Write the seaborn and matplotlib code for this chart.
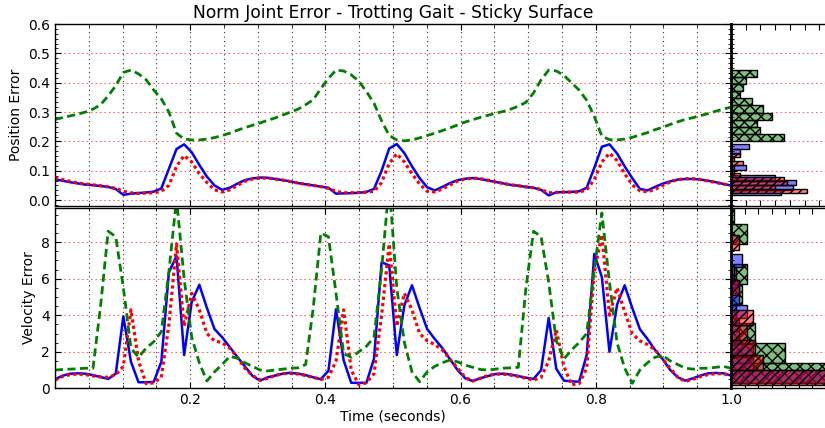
import numpy as np
import matplotlib
matplotlib.use("Agg")
import matplotlib.pyplot as plt
from matplotlib.ticker import MultipleLocator, NullFormatter, FixedLocator
import seaborn as sns

# ---------------- data ----------------
n_samples = 90
time_s = np.arange(n_samples) / (n_samples - 1)

pos_blue = [0.071, 0.066, 0.061, 0.057, 0.053, 0.051, 0.048, 0.045, 0.038, 0.018,
            0.022, 0.024, 0.026, 0.029, 0.040, 0.107, 0.174, 0.190, 0.163, 0.120,
            0.080, 0.050, 0.035, 0.042, 0.056, 0.068, 0.074, 0.077, 0.076, 0.072,
            0.068, 0.064, 0.058, 0.054, 0.050, 0.046, 0.042, 0.022, 0.023, 0.024,
            0.025, 0.028, 0.038, 0.100, 0.176, 0.191, 0.160, 0.115, 0.075, 0.044,
            0.033, 0.045, 0.058, 0.068, 0.073, 0.075, 0.072, 0.067, 0.062, 0.057,
            0.052, 0.049, 0.045, 0.042, 0.035, 0.016, 0.027, 0.027, 0.028, 0.030,
            0.042, 0.110, 0.182, 0.190, 0.159, 0.115, 0.075, 0.038, 0.033, 0.045,
            0.056, 0.064, 0.070, 0.072, 0.072, 0.070, 0.066, 0.061, 0.055, 0.050]

pos_red = [0.076, 0.070, 0.064, 0.058, 0.055, 0.052, 0.049, 0.045, 0.040, 0.030,
           0.025, 0.023, 0.024, 0.025, 0.030, 0.050, 0.115, 0.152, 0.130, 0.090,
           0.060, 0.035, 0.028, 0.035, 0.050, 0.064, 0.072, 0.075, 0.075, 0.072,
           0.068, 0.063, 0.058, 0.054, 0.050, 0.046, 0.040, 0.030, 0.025, 0.025,
           0.026, 0.027, 0.030, 0.060, 0.125, 0.158, 0.130, 0.090, 0.055, 0.030,
           0.028, 0.038, 0.052, 0.065, 0.072, 0.075, 0.073, 0.068, 0.062, 0.057,
           0.052, 0.049, 0.045, 0.042, 0.036, 0.025, 0.026, 0.028, 0.027, 0.027,
           0.035, 0.070, 0.130, 0.160, 0.135, 0.090, 0.052, 0.032, 0.028, 0.037,
           0.050, 0.062, 0.070, 0.073, 0.073, 0.070, 0.065, 0.060, 0.055, 0.050]

pos_green = [0.275, 0.281, 0.287, 0.293, 0.300, 0.310, 0.325, 0.355, 0.390, 0.435,
             0.443, 0.430, 0.410, 0.375, 0.345, 0.300, 0.228, 0.208, 0.205, 0.205,
             0.208, 0.213, 0.220, 0.228, 0.238, 0.247, 0.255, 0.263, 0.272, 0.280,
             0.290, 0.300, 0.310, 0.325, 0.342, 0.380, 0.415, 0.443, 0.440, 0.427,
             0.405, 0.370, 0.330, 0.270, 0.220, 0.205, 0.202, 0.205, 0.212, 0.220,
             0.228, 0.237, 0.246, 0.256, 0.266, 0.274, 0.282, 0.289, 0.296, 0.302,
             0.310, 0.320, 0.333, 0.365, 0.410, 0.443, 0.440, 0.425, 0.400, 0.375,
             0.340, 0.285, 0.218, 0.206, 0.205, 0.208, 0.214, 0.222, 0.230, 0.240,
             0.248, 0.258, 0.267, 0.275, 0.281, 0.288, 0.295, 0.303, 0.310, 0.317]

vel_blue = [0.50, 0.69, 0.80, 0.82, 0.80, 0.72, 0.62, 0.51, 0.80, 3.94,
            1.45, 0.33, 0.33, 0.35, 1.45, 6.36, 7.24, 1.82, 4.73, 5.67,
            4.40, 3.24, 2.80, 2.26, 1.72, 1.20, 0.68, 0.42, 0.60, 0.70,
            0.80, 0.85, 0.80, 0.72, 0.60, 0.50, 0.96, 4.33, 1.54, 0.30,
            0.30, 0.30, 1.63, 6.90, 6.73, 1.82, 4.55, 5.64, 4.40, 3.24,
            2.70, 2.20, 1.60, 1.00, 0.55, 0.40, 0.55, 0.67, 0.78, 0.80,
            0.75, 0.67, 0.58, 0.51, 1.00, 3.85, 1.07, 0.42, 0.38, 0.36,
            1.82, 7.36, 6.09, 2.00, 4.58, 5.64, 4.40, 3.24, 2.70, 2.10,
            1.60, 1.00, 0.60, 0.42, 0.55, 0.70, 0.82, 0.84, 0.82, 0.70]

vel_red = [0.45, 0.65, 0.75, 0.78, 0.75, 0.68, 0.62, 0.60, 0.75, 1.20,
           4.30, 1.50, 0.25, 0.30, 0.60, 3.50, 7.90, 3.40, 5.20, 4.30,
           3.00, 2.60, 2.50, 2.20, 1.70, 1.10, 0.70, 0.45, 0.55, 0.70,
           0.80, 0.82, 0.78, 0.70, 0.60, 0.48, 0.60, 1.50, 4.30, 1.00,
           0.20, 0.30, 0.80, 4.00, 7.90, 3.40, 5.20, 4.30, 3.00, 2.60,
           2.40, 2.10, 1.60, 1.10, 0.60, 0.40, 0.55, 0.70, 0.78, 0.78,
           0.72, 0.65, 0.55, 0.45, 0.60, 1.50, 3.20, 1.20, 0.20, 0.25,
           1.10, 6.40, 8.40, 4.00, 5.50, 4.20, 3.00, 2.60, 2.40, 2.10,
           1.60, 1.10, 0.60, 0.38, 0.50, 0.65, 0.75, 0.80, 0.80, 0.70]

vel_green = [1.00, 1.03, 1.05, 1.07, 1.10, 1.10, 4.50, 8.60, 8.30, 5.50,
             2.20, 1.70, 2.20, 2.55, 3.10, 6.40, 10.40, 6.00, 2.80, 1.40,
             0.40, 0.90, 1.30, 1.75, 1.65, 1.40, 1.20, 1.00, 0.95, 1.00,
             1.05, 1.10, 1.12, 1.30, 4.40, 8.50, 8.30, 5.20, 1.90, 1.70,
             2.00, 2.30, 2.80, 6.50, 11.20, 5.50, 2.50, 0.90, 0.36, 0.90,
             1.20, 1.40, 1.55, 1.45, 1.27, 1.15, 1.03, 1.00, 1.05, 1.10,
             1.12, 1.15, 5.50, 8.60, 8.30, 5.80, 2.60, 1.60, 2.10, 2.50,
             3.00, 6.50, 9.60, 5.80, 2.50, 1.10, 0.27, 1.00, 1.40, 1.70,
             1.80, 1.50, 1.30, 1.10, 1.05, 1.10, 1.10, 1.15, 1.20, 1.10]

title = "Norm Joint Error - Trotting Gait - Sticky Surface"
pos_ylabel = "Position Error"
vel_ylabel = "Velocity Error"
xlabel = "Time (seconds)"
x_tick_labels = [0.2, 0.4, 0.6, 0.8, 1.0]
pos_ticks = [0.0, 0.1, 0.2, 0.3, 0.4, 0.5, 0.6]
vel_ticks = [0, 2, 4, 6, 8]

# ---------------- figure ----------------
plt.rcParams['font.family'] = ['DejaVu Sans']
plt.rcParams['hatch.linewidth'] = 1.0

W, H = 825, 428
fig = plt.figure(figsize=(W / 100, H / 100), dpi=100)

def rect(x0, y0, x1, y1):
    return [x0 / W, 1 - y1 / H, (x1 - x0) / W, (y1 - y0) / H]

ax_pos = fig.add_axes(rect(55, 24, 731, 206))
ax_vel = fig.add_axes(rect(55, 207.5, 731, 388.3))
hist_pos = fig.add_axes(rect(731, 24, 731 + 117.6, 206))
hist_vel = fig.add_axes(rect(731, 207.5, 731 + 117.6, 388.3))

series_style = [
    dict(color='b', linestyle='-', lw=1.8),
    dict(color='r', linestyle=(0, (1, 1)), lw=2.3),
    dict(color='g', linestyle=(0, (2.9, 1.6)), lw=2.0),
]

for ax, ys in [(ax_pos, [pos_blue, pos_red, pos_green]),
               (ax_vel, [vel_blue, vel_red, vel_green])]:
    for y, st in zip(ys, series_style):
        sns.lineplot(x=time_s, y=y, ax=ax, **st)

# histograms: green first, then blue, then red on top
hist_style = [
    (2, dict(color='g', hatch='xxx')),
    (0, dict(color='b', hatch=None)),
    (1, dict(color='r', hatch='////')),
]
for hax, ys in [(hist_pos, [pos_blue, pos_red, pos_green]),
                (hist_vel, [vel_blue, vel_red, vel_green])]:
    for idx, st in hist_style:
        kw = dict(y=ys[idx], bins=10, ax=hax, stat='count', alpha=0.5,
                  color=st['color'], edgecolor='k', linewidth=1.0)
        if st['hatch']:
            kw['hatch'] = st['hatch']
        sns.histplot(**kw)

# ---------------- axes styling ----------------
for ax in [ax_pos, ax_vel, hist_pos, hist_vel]:
    for sp in ax.spines.values():
        sp.set_linewidth(1.0)
        sp.set_color('k')
    ax.tick_params(which='both', direction='in', top=True, right=True,
                   labelsize=10, color='k')
    ax.tick_params(which='major', length=4)
    ax.tick_params(which='minor', length=2)
    ax.set_xlabel('')
    ax.set_ylabel('')

for ax in [ax_pos, ax_vel]:
    ax.set_xlim(0, 1.0)
    ax.xaxis.set_major_locator(FixedLocator(x_tick_labels))
    ax.xaxis.set_minor_locator(MultipleLocator(0.05))
    ax.grid(True, which='both', axis='x', color='k', linestyle=(0, (1, 3)), lw=0.8, alpha=0.8)
ax_pos.xaxis.set_major_formatter(NullFormatter())

ax_pos.set_yticks(pos_ticks)
ax_pos.set_yticklabels([f"{v:.1f}" for v in pos_ticks])
ax_vel.set_yticks(vel_ticks)
ax_vel.set_yticklabels([f"{v:d}" for v in vel_ticks])
hist_pos.set_yticks(pos_ticks)
hist_vel.set_yticks(vel_ticks)

for ax in [ax_pos, hist_pos]:
    ax.yaxis.set_minor_locator(MultipleLocator(0.1 / 6))
    ax.set_ylim(-0.02, 0.6)
for ax in [ax_vel, hist_vel]:
    ax.yaxis.set_minor_locator(MultipleLocator(0.5))
    ax.set_ylim(0, 9.9)

for ax in [ax_pos, ax_vel, hist_pos, hist_vel]:
    ax.grid(True, which='major', axis='y', color='r', linestyle=(0, (1.5, 2.5)), lw=0.8, alpha=0.6)
    ax.set_axisbelow(True)

for hax, xmax in [(hist_pos, 40), (hist_vel, 43.5)]:
    hax.set_xlim(0, xmax)
    hax.xaxis.set_major_locator(MultipleLocator(5))
    hax.tick_params(labelleft=False, labelbottom=False)
    hax.spines['left'].set_linewidth(2.0)

ax_pos.set_title(title, fontsize=12.3, pad=4)
ax_pos.set_ylabel(pos_ylabel, fontsize=10)
ax_vel.set_ylabel(vel_ylabel, fontsize=10)
ax_vel.set_xlabel(xlabel, fontsize=10, labelpad=2)

fig.savefig("out.png", dpi=100)
